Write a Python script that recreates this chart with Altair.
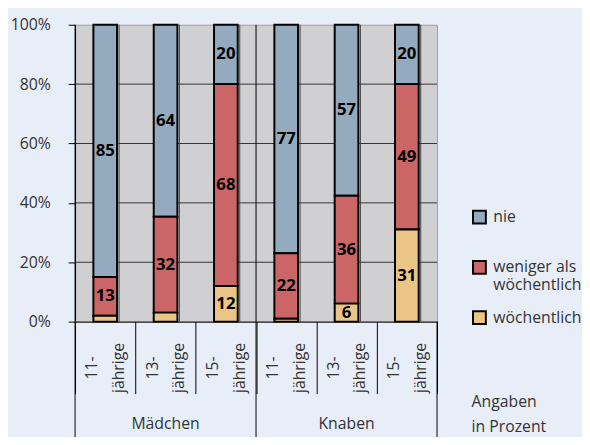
import altair as alt
import pandas as pd

# ---- data ----
keys = ["M11", "M13", "M15", "K11", "K13", "K15"]
ages = ["11-", "13-", "15-", "11-", "13-", "15-"]
age_word = ["jährige"] * 6
groups = ["Mädchen", "Knaben"]
group_keys = ["M13", "K13"]
group_starts = ["M11", "K11"]
group_end = ["K15"]
series = ["nie", "weniger als wöchentlich", "wöchentlich"]
nie = [85, 64, 20, 77, 57, 20]
weniger = [13, 32, 68, 22, 36, 49]
woech = [2, 3, 12, 1, 6, 31]
grid_vals = [0.2, 0.4, 0.6, 0.8]
y_ticks = [0, 0.2, 0.4, 0.6, 0.8, 1.0]
note = ["Angaben", "in Prozent"]
colors = ["#94abbf", "#cc6666", "#ebc585"]

rows = []
for i, k in enumerate(keys):
    for s, vals, o in zip(series, [nie, weniger, woech], [2, 1, 0]):
        rows.append({"cat": k, "series": s, "value": vals[i], "ord": o})
df = pd.DataFrame(rows)
cat_df = pd.DataFrame({"cat": keys, "age": ages, "word": age_word})
grp_df = pd.DataFrame({"cat": group_keys, "group": groups})

FONT = "Open Sans"
TXT = "#333333"

xscale = alt.Scale(domain=keys, paddingInner=0, paddingOuter=0)
yscale = alt.Scale(domain=[0, 1], nice=False)

xaxis = alt.Axis(labels=False, title=None, domainColor="black", tickColor="black",
                 tickSize=73, tickBand="extent", grid=False, domainWidth=1, tickWidth=1)
yaxis = alt.Axis(values=y_ticks, format=".0%", grid=False, domainColor="black",
                 tickColor="black", tickSize=7, labelPadding=18, labelFontSize=16,
                 labelColor=TXT, labelFont=FONT, title=None)


def X(bp=None):
    kw = dict(scale=xscale, axis=xaxis, title=None)
    if bp is not None:
        kw["bandPosition"] = bp
    return alt.X("cat:N", **kw)


def Y(field):
    return alt.Y(field, scale=yscale, axis=yaxis, title=None)


legend = alt.Legend(title=None, orient="none", legendX=402, legendY=187,
                    symbolType="square", symbolSize=169, symbolStrokeColor="black",
                    symbolStrokeWidth=2, labelFontSize=16, labelColor=TXT, labelFont=FONT,
                    rowPadding=14, labelOffset=6, padding=0, labelLimit=200,
                    labelExpr="datum.label == 'weniger als wöchentlich' ? ['weniger als', 'wöchentlich'] : [datum.label, ' ']")

grid = alt.Chart(pd.DataFrame({"g": grid_vals})).mark_rule(color="#333333", strokeWidth=1).encode(
    y=Y("g:Q")
)

edge = alt.Chart(cat_df).mark_rule(color="#444444", strokeWidth=1).encode(
    x=X(0.73)
)

gstart = alt.Chart(pd.DataFrame({"cat": group_starts})).mark_rule(color="black", strokeWidth=1).encode(
    x=X(0), y=alt.value(0), y2=alt.value(418)
)
gend = alt.Chart(pd.DataFrame({"cat": group_end})).mark_rule(color="black", strokeWidth=1).encode(
    x=X(1), y=alt.value(301), y2=alt.value(418)
)

bars = alt.Chart(df).mark_bar(size=24, stroke="black", strokeWidth=2).encode(
    x=X(),
    y=alt.Y("value:Q", stack="normalize", scale=yscale, axis=yaxis, title=None),
    color=alt.Color("series:N", scale=alt.Scale(domain=series, range=colors), legend=legend),
    order=alt.Order("ord:Q", sort="ascending"),
)

labels = alt.Chart(df).transform_stack(
    stack="value", groupby=["cat"], as_=["y0", "y1"],
    sort=[alt.SortField("ord", order="ascending")], offset="normalize"
).transform_calculate(mid="(datum.y0 + datum.y1) / 2").transform_filter(
    "datum.value >= 5"
).mark_text(fontWeight="bold", fontSize=17, color="black", font=FONT).encode(
    x=X(),
    y=Y("mid:Q"),
    text="value:Q",
)

age1 = alt.Chart(cat_df).mark_text(angle=270, align="center", baseline="middle", dy=-13,
                                   fontSize=16, color=TXT, font=FONT).encode(
    x=X(), y=alt.value(348), text="age:N")
age2 = alt.Chart(cat_df).mark_text(angle=270, align="center", baseline="middle", dy=14,
                                   fontSize=16, color=TXT, font=FONT).encode(
    x=X(), y=alt.value(348), text="word:N")

grp = alt.Chart(grp_df).mark_text(align="center", baseline="middle", fontSize=16,
                                  color=TXT, font=FONT).encode(
    x=X(), y=alt.value(405), text="group:N")

note_t = alt.Chart(pd.DataFrame({"t": [0]})).mark_text(
    text=note, align="left", baseline="alphabetic", lineHeight=25, fontSize=16,
    color=TXT, font=FONT).encode(x=alt.value(402), y=alt.value(388))

chart = alt.layer(grid, edge, bars, gstart, gend, labels, age1, age2, grp, note_t).properties(
    width=367, height=301, background="#e8eef8",
    padding={"left": 68, "top": 14, "right": 147, "bottom": 114},
    autosize=alt.AutoSizeParams(type="none"),
).configure(font=FONT).configure_view(fill="#d0d0d2", stroke="#a0a0a0")

chart.save("out.html", embed_options={"renderer": "svg", "actions": False})
